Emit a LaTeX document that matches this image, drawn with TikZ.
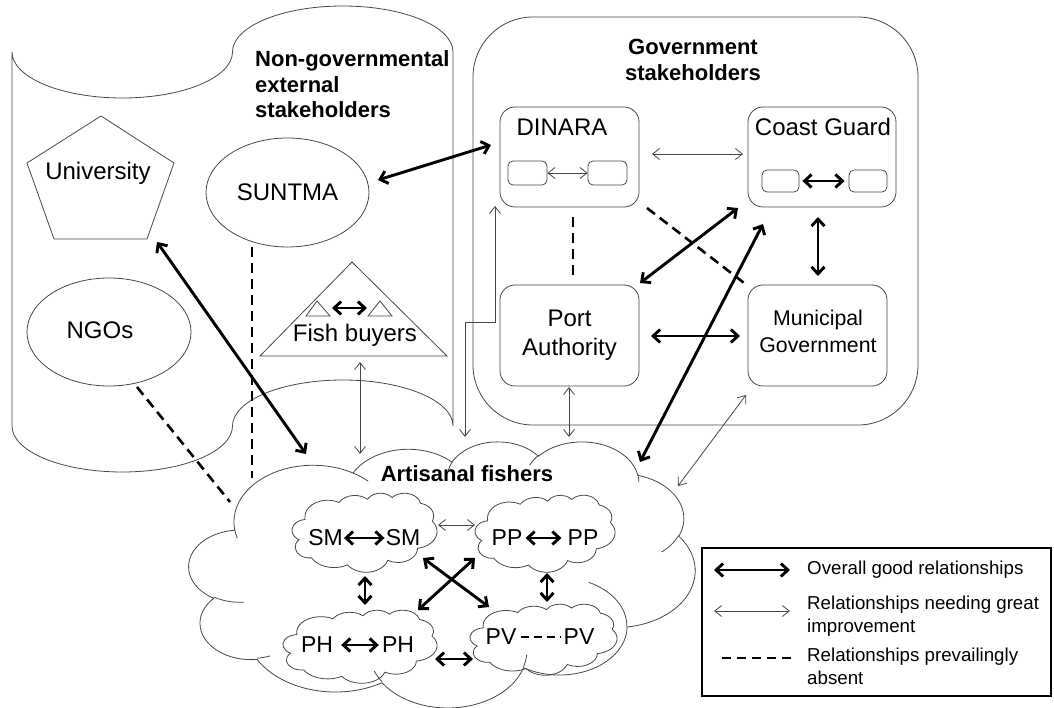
\documentclass[tikz,border=0pt]{standalone}
\usepackage{fontspec}
\setmainfont{Liberation Sans}
\usetikzlibrary{arrows.meta,shapes.geometric}
\colorlet{ln}{black!72}

% DrawingML arcTo (visual angles) -> pgf parametric elliptical arc
\newcommand\pparc[4]{%
  \pgfmathsetmacro\ppta{atan2((#1)*sin(#3),(#2)*cos(#3))}%
  \pgfmathsetmacro\pptb{atan2((#1)*sin((#3)+(#4)),(#2)*cos((#3)+(#4)))}%
  \pgfmathsetmacro\pptc{(\pptb)+360*round(((\ppta)+(#4)-(\pptb))/360)}%
  \pgfpatharcaxes{\ppta}{\pptc}{\pgfpointxy{#1}{0}}{\pgfpointxy{0}{#2}}%
}
\newcommand\ppcloudoutline{%
  \pgfpathmoveto{\pgfpointxy{39.00}{143.70}}%
  \pparc{67.53}{91.90}{-190.4875}{123.7805}%
  \pparc{53.33}{72.67}{-144.1024}{89.9452}%
  \pparc{43.65}{59.45}{-145.8079}{99.7230}%
  \pparc{48.57}{65.95}{-130.9861}{117.2417}%
  \pparc{53.33}{72.73}{-78.7089}{109.0269}%
  \pparc{67.75}{92.20}{-46.2673}{130.2690}%
  \pparc{57.85}{78.67}{0.6250}{114.0333}%
  \pparc{67.52}{92.15}{22.4516}{115.1726}%
  \pparc{77.20}{105.43}{66.2426}{75.7110}%
  \pparc{43.60}{59.18}{-274.9421}{146.7356}%
  \pparc{43.45}{59.45}{-246.8285}{152.5189}%
  \pgfpathclose}
\newcommand\ppcloudinner{%
  \pgfpathmoveto{\pgfpointxy{46.93}{261.77}}\pparc{43.45}{59.45}{86.7420}{26.4295}%
  \pgfpathmoveto{\pgfpointxy{69.28}{348.99}}\pparc{43.60}{59.18}{73.6105}{11.4475}%
  \pgfpathmoveto{\pgfpointxy{164.78}{390.90}}\pparc{67.52}{92.15}{137.6242}{14.0811}%
  \pgfpathmoveto{\pgfpointxy{288.27}{347.51}}\pparc{67.52}{92.15}{6.4533}{15.9984}%
  \pgfpathmoveto{\pgfpointxy{341.29}{229.54}}\pparc{57.85}{78.67}{-70.2924}{70.9174}%
  \pgfpathmoveto{\pgfpointxy{417.98}{153.54}}\pparc{53.33}{72.73}{30.3180}{27.7515}%
  \pgfpathmoveto{\pgfpointxy{383.24}{54.26}}\pparc{48.57}{65.95}{-13.7443}{14.8589}%
  \pgfpathmoveto{\pgfpointxy{290.78}{39.52}}\pparc{48.57}{65.95}{-149.1815}{18.1954}%
  \pgfpathmoveto{\pgfpointxy{221.41}{47.20}}\pparc{43.65}{59.45}{-163.4943}{17.6864}%
  \pgfpathmoveto{\pgfpointxy{140.00}{51.92}}\pparc{67.53}{91.90}{-66.7070}{12.3194}%
  \pgfpathmoveto{\pgfpointxy{41.27}{157.89}}\pparc{67.53}{91.90}{157.6544}{11.8582}%
}
% small cloud: #1,#2 top-left, #3,#4 scale factors
\newcommand\smallcloud[4]{%
  \begin{scope}[shift={(#1,#2)}, x=#3pt, y=-#4pt]
    \begin{pgfscope}
      \pgfsetlinewidth{0.8pt}\pgfsetstrokecolor{ln}%
      \ppcloudoutline\pgfusepath{stroke}%
    \end{pgfscope}
  \end{scope}}

\tikzset{
  shp/.style={draw=ln, line width=0.8pt},
  lbl/.style={font=\fontsize{24}{29}\selectfont, inner sep=0pt},
  sml/.style={font=\fontsize{23}{27}\selectfont, inner sep=0pt},
  ttl/.style={font=\fontsize{22}{25.5}\selectfont\bfseries, inner sep=0pt},
  lgd/.style={font=\fontsize{18.7}{23}\selectfont, inner sep=0pt, anchor=west, align=left},
  rbox/.style={shp, rounded corners=15pt},
  ibox/.style={shp, rounded corners=5pt, inner sep=0pt},
  good/.style={line width=2.9pt, draw=black,
    arrows={Straight Barb[length=7pt,width=13pt]-Straight Barb[length=7pt,width=13pt]}},
  weak/.style={line width=0.8pt, draw=ln,
    arrows={Straight Barb[length=7pt,width=11pt]-Straight Barb[length=7pt,width=11pt]}},
  absent/.style={line width=2.6pt, draw=black, dash pattern=on 10pt off 6pt},
}

\begin{document}
\begin{tikzpicture}[x=1pt,y=-1pt]
\useasboundingbox (0,0) rectangle (1054,708);
\fill[white] (0,0) rectangle (1054,708);

% ---------- Non-governmental container (punched tape) ----------
\draw[shp] (12,52)
  arc[start angle=180, end angle=360, x radius=110.25pt, y radius=46pt]
  arc[start angle=180, end angle=0, x radius=110.25pt, y radius=46pt]
  -- (453,426)
  arc[start angle=0, end angle=180, x radius=110.25pt, y radius=46pt]
  arc[start angle=0, end angle=-180, x radius=110.25pt, y radius=46pt]
  -- cycle;
\node[ttl, anchor=west, align=left] (ngtitle) at (255,84.5) {Non-governmental\\external\\stakeholders};

% University
\draw[shp] (101,116) -- (174,163) -- (147,239) -- (54,239) -- (27,163) -- cycle;
\node[lbl] (univ) at (98,173) {University};
% SUNTMA
\node[shp, ellipse, minimum width=163pt, minimum height=109pt, lbl] (suntma) at (287.5,192.5) {SUNTMA};
% NGOs
\node[shp, ellipse, minimum width=164pt, minimum height=108pt] (ngos) at (109,332) {};
\node[lbl] (ngost) at (100,330) {NGOs};
% Fish buyers
\draw[shp] (352,262) -- (447,356) -- (260,356) -- cycle;
\draw[shp] (317,301) -- (330,316) -- (306,316) -- cycle;
\draw[shp] (380,301) -- (392,316) -- (368,316) -- cycle;
\node[lbl] (fisht) at (355,335) {Fish buyers};
\coordinate (fb1) at (332,308);
\coordinate (fb2) at (367,308);
\draw[good] (fb1) -- (fb2);

% ---------- Government stakeholders ----------
\node[shp, rounded corners=60pt, minimum width=445pt, minimum height=408pt] (gov) at (695.5,221) {};
\node[ttl, align=center] (govt) at (693,60) {Government\\stakeholders};

\node[rbox, minimum width=139pt, minimum height=100pt] (dinara) at (569.5,157) {};
\node[lbl] (dinarat) at (562,127) {DINARA};
\node[ibox, minimum width=39pt, minimum height=24pt] (din1) at (527.5,173) {};
\node[ibox, minimum width=39pt, minimum height=24pt] (din2) at (607.5,173) {};
\draw[weak] (din1) -- (din2);

\node[rbox, minimum width=148pt, minimum height=100pt] (cg) at (822,157) {};
\node[lbl] (cgt) at (823,127) {Coast Guard};
\node[ibox, minimum width=37pt, minimum height=22pt] (cg1) at (780.5,181) {};
\node[ibox, minimum width=38pt, minimum height=22pt] (cg2) at (868,181) {};
\draw[good, shorten <=3pt, shorten >=4pt] (cg1) -- (cg2);

\node[rbox, minimum width=139pt, minimum height=101pt, lbl, align=center] (port) at (569.5,335.5) {Port\\Authority};
\node[rbox, minimum width=139pt, minimum height=101pt] (muni) at (817.5,335.5) {};
\node[font=\fontsize{21.3}{27}\selectfont, inner sep=0pt, align=center] (munit) at (818,331.5) {Municipal\\Government};

% ---------- Artisanal fishers (big cloud) ----------
\begin{scope}[shift={(189,441)}, x=1.1713pt, y=-0.61574pt]
  \begin{pgfscope}
    \pgfsetlinewidth{0.8pt}\pgfsetstrokecolor{ln}\pgfsetfillcolor{white}%
    \ppcloudoutline\pgfusepath{fill,stroke}%
    \ppcloudinner\pgfusepath{stroke}%
  \end{pgfscope}
\end{scope}
\node[ttl] (fishers) at (467,474) {Artisanal fishers};

% small clouds
\smallcloud{292}{493}{0.33565}{0.18287}
\smallcloud{475}{495}{0.32407}{0.17824}
\smallcloud{283}{610}{0.35648}{0.16898}
\smallcloud{470}{604}{0.34028}{0.16435}

\node[sml] (sm1) at (325.5,538) {SM};
\node[sml] (sm2) at (403,538) {SM};
\node[sml] (pp1) at (507,538) {PP};
\node[sml] (pp2) at (583,538) {PP};
\node[sml] (ph1) at (317,645) {PH};
\node[sml] (ph2) at (398,645) {PH};
\node[sml] (pv1) at (501,637) {PV};
\node[sml] (pv2) at (579,637) {PV};
\draw[good, shorten <=1pt, shorten >=1pt] (sm1) -- (sm2);
\draw[good, shorten <=3pt, shorten >=6pt] (pp1) -- (pp2);
\draw[good, shorten <=8pt, shorten >=3pt] (ph1) -- (ph2);
\draw[line width=2.4pt, dash pattern=on 8pt off 5pt, shorten <=4pt, shorten >=2pt] (pv1) -- (pv2);

% connectors among small clouds
\coordinate (smE) at (438,525);  \coordinate (ppW) at (475,525);
\coordinate (smS) at (365,576);  \coordinate (phN) at (365,605);
\coordinate (ppS) at (547,573);  \coordinate (pvN) at (547,602);
\coordinate (phE) at (435,659);  \coordinate (pvW) at (473,659);
\coordinate (smSE) at (423,558); \coordinate (pvNW) at (489,607);
\coordinate (ppSW) at (475,558); \coordinate (phNE) at (418,610);
\draw[weak] (smE) -- (ppW);
\draw[good] (smS) -- (phN);
\draw[good] (ppS) -- (pvN);
\draw[good] (phE) -- (pvW);
\draw[good] (smSE) -- (pvNW);
\draw[good] (ppSW) -- (phNE);

% ---------- connectors ----------
\coordinate (suntmaE) at (378,180); \coordinate (dinW) at (491,145);
\draw[good] (suntmaE) -- (dinW);
\coordinate (dinE) at (652,154); \coordinate (cgW) at (743,154);
\draw[weak] (dinE) -- (cgW);
\coordinate (dinS) at (573,217); \coordinate (portN) at (573,278);
\draw[absent] (dinS) -- (portN);
\coordinate (dinSE) at (647,208); \coordinate (muniNW) at (748,286);
\draw[absent] (dinSE) -- (muniNW);
\coordinate (cgSW) at (738,208); \coordinate (portNE) at (640,283);
\draw[good] (cgSW) -- (portNE);
\coordinate (cgS) at (818,217); \coordinate (muniN) at (818,276);
\draw[good] (cgS) -- (muniN);
\coordinate (portE) at (651,336); \coordinate (muniW) at (740,336);
\draw[good] (portE) -- (muniW);
\coordinate (cgS2) at (763,224); \coordinate (afNE) at (640,462);
\draw[good] (cgS2) -- (afNE);
\coordinate (muniSW) at (746,395); \coordinate (afE) at (678,486);
\draw[weak] (muniSW) -- (afE);
\coordinate (portS) at (569,387); \coordinate (afN) at (569,437);
\draw[weak] (portS) -- (afN);
\coordinate (dinSW) at (495,206); \coordinate (elb1) at (495,322);
\coordinate (elb2) at (465,322); \coordinate (afN2) at (465,437);
\draw[weak] (dinSW) -- (elb1) -- (elb2) -- (afN2);
\coordinate (fbS) at (360,362); \coordinate (afN3) at (360,454);
\draw[weak] (fbS) -- (afN3);
\coordinate (univSE) at (157,242); \coordinate (afNW) at (306,454);
\draw[good] (univSE) -- (afNW);
\coordinate (suntmaS) at (252,247); \coordinate (afW1) at (252,478);
\draw[absent] (suntmaS) -- (afW1);
\coordinate (ngosSE) at (137,387); \coordinate (afW2) at (230,502);
\draw[absent] (ngosSE) -- (afW2);

% ---------- legend ----------
\node[draw=black, line width=1.5pt, minimum width=349pt, minimum height=148pt] (legend) at (876.5,622) {};
\coordinate (lg1a) at (714,570); \coordinate (lg1b) at (790,570);
\draw[good] (lg1a) -- (lg1b);
\node[lgd] (lgt1) at (807,570) {Overall good relationships};
\coordinate (lg2a) at (714,611); \coordinate (lg2b) at (790,611);
\draw[weak] (lg2a) -- (lg2b);
\node[lgd] (lgt2) at (807,616.5) {Relationships needing great\\improvement};
\coordinate (lg3a) at (722,658); \coordinate (lg3b) at (792,658);
\draw[absent, dash pattern=on 9pt off 6pt] (lg3a) -- (lg3b);
\node[lgd] (lgt3) at (807,666) {Relationships prevailingly\\absent};
\end{tikzpicture}
\end{document}
